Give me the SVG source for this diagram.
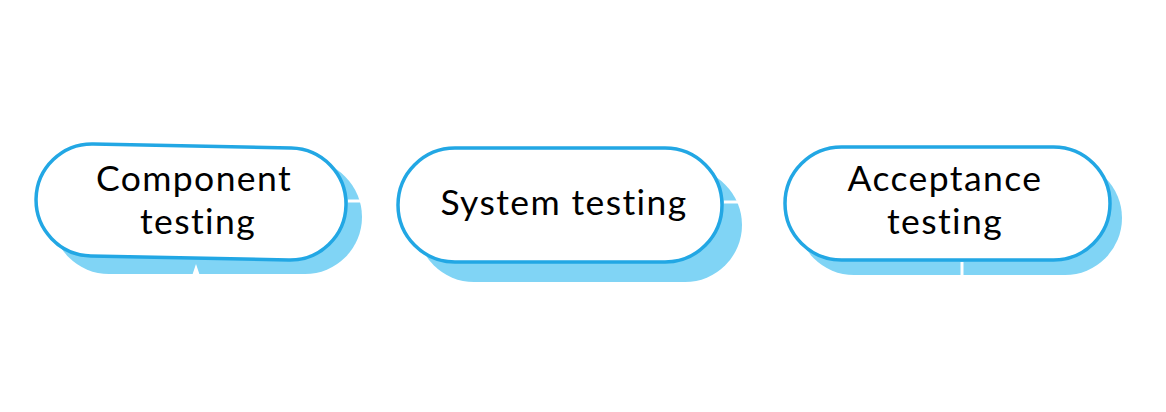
<svg xmlns="http://www.w3.org/2000/svg" width="1166" height="412" viewBox="0 0 1166 412">
<style>
.shadow{fill:#80d4f5;stroke:none}
.pill{fill:#ffffff;stroke:#22a7e4;stroke-width:3.5}
.lbl{font-family:Lato,"Open Sans",sans-serif;font-size:35.5px;fill:#000000;text-anchor:middle;letter-spacing:1.4px}
.gap{stroke:#ffffff;stroke-width:3;fill:none}
</style>
<rect width="1166" height="412" fill="#ffffff"/>
<g id="node-component">
<rect class="shadow" x="52" y="160" width="310" height="114" rx="57"/>
<g transform="rotate(1.2 191 203)">
<rect class="pill" x="36" y="146" width="310" height="112" rx="56"/>
</g>
<text class="lbl"><tspan x="194" y="191">Component</tspan><tspan x="198" y="234">testing</tspan></text>
</g>
<g id="node-system">
<rect class="shadow" x="417" y="168" width="325" height="114" rx="57"/>
<rect class="pill" x="398" y="148" width="324" height="114" rx="57"/>
<text class="lbl" x="564" y="215">System testing</text>
</g>
<g id="node-acceptance">
<rect class="shadow" x="797" y="161" width="325" height="114" rx="57"/>
<rect class="pill" x="785" y="147" width="325" height="113" rx="56.5"/>
<text class="lbl"><tspan x="945" y="191">Acceptance</tspan><tspan x="945" y="234">testing</tspan></text>
</g>
<g id="connectors">
<line class="gap" x1="348" y1="201" x2="362" y2="201"/>
<line class="gap" x1="724" y1="202" x2="742" y2="202"/>
<polygon points="192,276 200,276 196,264" fill="#ffffff"/>
<line class="gap" x1="962" y1="262" x2="962" y2="276"/>
</g>
</svg>
